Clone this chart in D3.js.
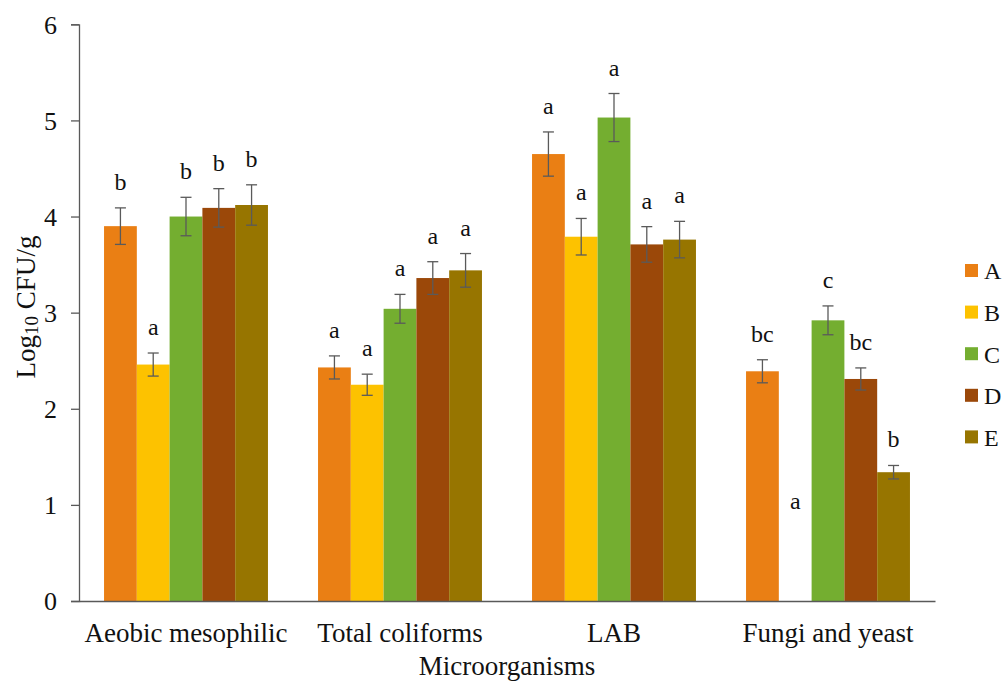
<!DOCTYPE html>
<html><head><meta charset="utf-8">
<script src="https://cdn.jsdelivr.net/npm/d3@7"></script>
<style>body{margin:0;background:#fff}svg{display:block}</style>
</head><body><svg id="c" width="1003" height="682"></svg>
<script>
const categories = ["Aeobic mesophilic","Total coliforms","LAB","Fungi and yeast"];
const seriesNames = ["A","B","C","D","E"];
const colors = ["#EA7F14","#FDC200","#74AE30","#9B4809","#977500"];
const valA = [3.90, 2.43, 4.65, 2.39];
const valB = [2.46, 2.25, 3.79, 0];
const valC = [4.00, 3.04, 5.03, 2.92];
const valD = [4.09, 3.36, 3.71, 2.31];
const valE = [4.12, 3.44, 3.76, 1.34];
const errA = [0.19, 0.12, 0.23, 0.12];
const errB = [0.12, 0.11, 0.19, 0];
const errC = [0.20, 0.15, 0.25, 0.15];
const errD = [0.20, 0.17, 0.185, 0.115];
const errE = [0.21, 0.175, 0.19, 0.07];
const letA = ["b","a","a","bc"];
const letB = ["a","a","a","a"];
const letC = ["b","a","a","c"];
const letD = ["b","a","a","bc"];
const letE = ["b","a","a","b"];
const yTicks = [0,1,2,3,4,5,6];

(function(){
const FONT="Liberation Serif";
const vals=[valA,valB,valC,valD,valE], errs=[errA,errB,errC,errD,errE], lets=[letA,letB,letC,letD,letE];
const svg=d3.select("#c");
const mLeft=79,mRight=935,mTop=24.3,mBottom=601;
const x0=d3.scaleBand().domain(categories).range([mLeft,mRight]).paddingInner(0.234).paddingOuter(0.117);
const x1=d3.scaleBand().domain(seriesNames).range([0,x0.bandwidth()]);
const y=d3.scaleLinear().domain([0,6]).range([mBottom,mTop]);

const data=[];
categories.forEach((c,ci)=>seriesNames.forEach((s,si)=>data.push({c,s,si,v:vals[si][ci],e:errs[si][ci],l:lets[si][ci]})));

// bars
svg.append("g").selectAll("rect").data(data.filter(d=>d.v>0)).join("rect")
 .attr("x",d=>x0(d.c)+x1(d.s)).attr("width",x1.bandwidth())
 .attr("y",d=>y(d.v)).attr("height",d=>y(0)-y(d.v)).attr("fill",d=>colors[d.si]);

// error bars
const eg=svg.append("g").attr("stroke","#5a5a5a").attr("stroke-width",1.3);
data.filter(d=>d.e>0).forEach(d=>{
  const cx=x0(d.c)+x1(d.s)+x1.bandwidth()/2;
  eg.append("line").attr("x1",cx).attr("x2",cx).attr("y1",y(d.v+d.e)).attr("y2",y(d.v-d.e));
  [d.v+d.e,d.v-d.e].forEach(v=>eg.append("line").attr("x1",cx-5.5).attr("x2",cx+5.5).attr("y1",y(v)).attr("y2",y(v)));
});

// letters
svg.append("g").selectAll("text").data(data).join("text")
 .attr("x",d=>x0(d.c)+x1(d.s)+x1.bandwidth()/2)
 .attr("y",d=>d.v>0?y(d.v+d.e)-18:y(1)+4)
 .attr("text-anchor","middle").style("font-family",FONT).style("font-size","24px").attr("fill","#111").text(d=>d.l);

// y axis
const ya=svg.append("g").attr("transform",`translate(${mLeft},0)`)
 .call(d3.axisLeft(y).tickValues(yTicks).tickSize(8).tickPadding(14).tickFormat(d3.format("d")));
ya.select(".domain").attr("stroke","#595959").attr("stroke-width",1.3);
ya.selectAll(".tick line").attr("stroke","#595959").attr("stroke-width",1.3);
ya.selectAll(".tick text").style("font-family",FONT).style("font-size","26px").attr("fill","#111").attr("dy","0.34em");

// x axis
const xa=svg.append("g").attr("transform",`translate(0,${mBottom})`)
 .call(d3.axisBottom(x0).tickSize(0).tickPadding(0));
xa.select(".domain").attr("stroke","#595959").attr("stroke-width",1.3);
xa.selectAll(".tick text").style("font-family",FONT).style("font-size","27px").attr("fill","#111").attr("dy",0).attr("y",41);

// axis titles
svg.append("text").attr("x",(mLeft+mRight)/2).attr("y",675).attr("text-anchor","middle")
 .style("font-family",FONT).style("font-size","27px").attr("fill","#111").text("Microorganisms");
const yt=svg.append("text").attr("transform","translate(35,307) rotate(-90)").attr("text-anchor","middle")
 .style("font-family",FONT).style("font-size","27px").attr("fill","#111");
yt.append("tspan").text("Log");
yt.append("tspan").style("font-size","19px").attr("dy",3).text("10");
yt.append("tspan").attr("dy",-3).text(" CFU/g");

// legend
const lg=svg.append("g");
seriesNames.forEach((s,i)=>{
  const cy=271+i*41.6;
  lg.append("rect").attr("x",965).attr("y",cy-7).attr("width",13).attr("height",13).attr("fill",colors[i]);
  lg.append("text").attr("x",984).attr("y",cy).attr("dy","0.35em").style("font-family",FONT).style("font-size","24px").attr("fill","#111").text(s);
});
})();
</script></body></html>
